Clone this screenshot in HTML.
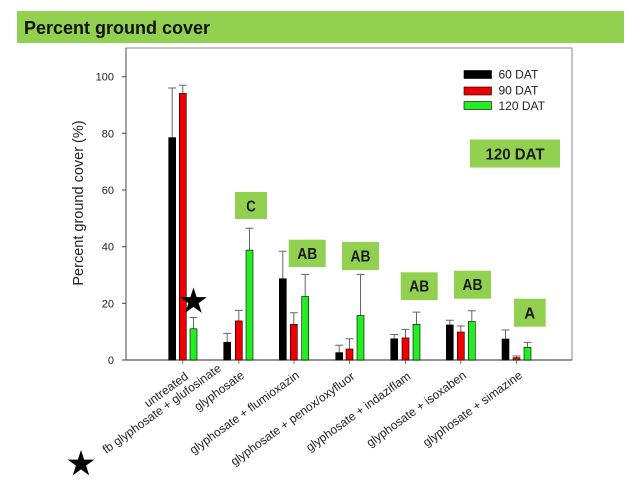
<!DOCTYPE html>
<html><head><meta charset="utf-8"><style>
html,body{margin:0;padding:0;background:#fff;}
svg{display:block;}
text{font-family:"Liberation Sans",Arial,sans-serif;}
</style></head><body>
<svg width="640" height="480" viewBox="0 0 640 480" xmlns="http://www.w3.org/2000/svg">
<rect x="0" y="0" width="640" height="480" fill="#fff"/>
<!-- title bar -->
<rect x="17" y="11" width="607" height="32" fill="#92d050"/>
<text x="24" y="34" font-size="18" font-weight="bold" fill="#111">Percent ground cover</text>

<!-- frame -->
<rect x="126" y="48" width="446" height="312" fill="none" stroke="#8a8a8a" stroke-width="1"/>
<line x1="126" y1="48" x2="126" y2="360" stroke="#444" stroke-width="1"/>
<line x1="126" y1="360" x2="572" y2="360" stroke="#555" stroke-width="1.2"/>

<!-- y ticks -->
<g stroke="#444" stroke-width="1">
<line x1="122" y1="76.7" x2="126" y2="76.7"/>
<line x1="122" y1="133.3" x2="126" y2="133.3"/>
<line x1="122" y1="190" x2="126" y2="190"/>
<line x1="122" y1="246.7" x2="126" y2="246.7"/>
<line x1="122" y1="303.3" x2="126" y2="303.3"/>
<line x1="122" y1="360" x2="126" y2="360"/>
</g>
<g font-size="11" fill="#222" text-anchor="end">
<text x="114" y="80.7">100</text>
<text x="114" y="137.3">80</text>
<text x="114" y="194">60</text>
<text x="114" y="250.7">40</text>
<text x="114" y="307.3">20</text>
<text x="114" y="364">0</text>
</g>
<text transform="translate(83,203) rotate(-90)" font-size="14.5" fill="#222" text-anchor="middle">Percent ground cover (%)</text>

<!-- x ticks -->
<g stroke="#777" stroke-width="1">
<line x1="182.7" y1="360" x2="182.7" y2="364"/>
<line x1="238.8" y1="360" x2="238.8" y2="364"/>
<line x1="294" y1="360" x2="294" y2="364"/>
<line x1="349.5" y1="360" x2="349.5" y2="364"/>
<line x1="405.5" y1="360" x2="405.5" y2="364"/>
<line x1="460.8" y1="360" x2="460.8" y2="364"/>
<line x1="516.5" y1="360" x2="516.5" y2="364"/>
</g>

<!-- error bars -->
<g stroke="#666" stroke-width="1">
<path d="M172.2 137.6V88 M168.2 88H176.2"/>
<path d="M182.8 93.4V85.2 M178.8 85.2H186.8"/>
<path d="M193.5 328.8V317.5 M189.5 317.5H197.5"/>
<path d="M227.2 342.2V333.4 M223.2 333.4H231.2"/>
<path d="M238.8 320.9V310.4 M234.8 310.4H242.8"/>
<path d="M249.5 250.1V228.3 M245.5 228.3H253.5"/>
<path d="M282.8 278.7V251.2 M278.8 251.2H286.8"/>
<path d="M293.8 324.3V312.7 M289.8 312.7H297.8"/>
<path d="M305.2 296.5V274.4 M301.2 274.4H309.2"/>
<path d="M339.2 352.6V345.3 M335.2 345.3H343.2"/>
<path d="M349.5 349V338.8 M345.5 338.8H353.5"/>
<path d="M360.5 315.5V274.4 M356.5 274.4H364.5"/>
<path d="M394.2 338.8V334.5 M390.2 334.5H398.2"/>
<path d="M405.5 337.9V329.4 M401.5 329.4H409.5"/>
<path d="M416.5 324.3V312.1 M412.5 312.1H420.5"/>
<path d="M449.8 324.9V320.3 M445.8 320.3H453.8"/>
<path d="M460.8 332V326 M456.8 326H464.8"/>
<path d="M471.8 321.5V310.7 M467.8 310.7H475.8"/>
<path d="M505.5 339V330 M501.5 330H509.5"/>
<path d="M516.5 357.7V356 M512.5 356H520.5"/>
<path d="M527.5 347.3V342.4 M523.5 342.4H531.5"/>
</g>

<!-- bars -->
<g stroke="#000" stroke-width="0.6">
<rect x="168.7" y="137.6" width="7" height="222.4" fill="#000"/>
<rect x="179.3" y="93.4" width="7" height="266.6" fill="#ee0000"/>
<rect x="190" y="328.8" width="7" height="31.2" fill="#22ee22"/>

<rect x="223.7" y="342.2" width="7" height="17.8" fill="#000"/>
<rect x="235.3" y="320.9" width="7" height="39.1" fill="#ee0000"/>
<rect x="246" y="250.1" width="7" height="109.9" fill="#22ee22"/>

<rect x="279.3" y="278.7" width="7" height="81.3" fill="#000"/>
<rect x="290.3" y="324.3" width="7" height="35.7" fill="#ee0000"/>
<rect x="301.7" y="296.5" width="7" height="63.5" fill="#22ee22"/>

<rect x="335.7" y="352.6" width="7" height="7.4" fill="#000"/>
<rect x="346" y="349" width="7" height="11" fill="#ee0000"/>
<rect x="357" y="315.5" width="7" height="44.5" fill="#22ee22"/>

<rect x="390.7" y="338.8" width="7" height="21.2" fill="#000"/>
<rect x="402" y="337.9" width="7" height="22.1" fill="#ee0000"/>
<rect x="413" y="324.3" width="7" height="35.7" fill="#22ee22"/>

<rect x="446.3" y="324.9" width="7" height="35.1" fill="#000"/>
<rect x="457.3" y="332" width="7" height="28" fill="#ee0000"/>
<rect x="468.3" y="321.5" width="7" height="38.5" fill="#22ee22"/>

<rect x="502" y="339" width="7" height="21" fill="#000"/>
<rect x="513" y="357.7" width="7" height="2.3" fill="#ee0000"/>
<rect x="524" y="347.3" width="7" height="12.7" fill="#22ee22"/>
</g>

<!-- legend -->
<rect x="464" y="70.5" width="27.5" height="8" fill="#000" stroke="#000" stroke-width="0.6"/>
<rect x="464" y="87" width="27.5" height="8" fill="#ee0000" stroke="#000" stroke-width="0.6"/>
<rect x="464" y="101.5" width="27.5" height="8" fill="#22ee22" stroke="#000" stroke-width="0.6"/>
<g font-size="12" fill="#222">
<text x="498.5" y="78.5">60 DAT</text>
<text x="498.5" y="94.5">90 DAT</text>
<text x="498.5" y="110">120 DAT</text>
</g>

<!-- significance boxes -->
<g fill="#92d050">
<rect x="470" y="139.5" width="90" height="28"/>
<rect x="235" y="192" width="32" height="27"/>
<rect x="288.7" y="239.7" width="37" height="27.3"/>
<rect x="342" y="242" width="37" height="28"/>
<rect x="400.7" y="272.3" width="37" height="27.7"/>
<rect x="454" y="270.7" width="37" height="28"/>
<rect x="514" y="298.7" width="31.7" height="28"/>
</g>
<g font-size="16" font-weight="bold" fill="#1a1a1a" text-anchor="middle">
<text x="515" y="159.5" textLength="59" lengthAdjust="spacingAndGlyphs">120 DAT</text>
<text x="251" y="211.5" textLength="9.5" lengthAdjust="spacingAndGlyphs">C</text>
<text x="307.2" y="259" textLength="20" lengthAdjust="spacingAndGlyphs">AB</text>
<text x="360.5" y="261.5" textLength="20" lengthAdjust="spacingAndGlyphs">AB</text>
<text x="419.2" y="291.5" textLength="20" lengthAdjust="spacingAndGlyphs">AB</text>
<text x="472.5" y="290" textLength="20" lengthAdjust="spacingAndGlyphs">AB</text>
<text x="529.8" y="318.5" textLength="11" lengthAdjust="spacingAndGlyphs">A</text>
</g>

<!-- x labels -->
<g font-size="12" fill="#222" text-anchor="end">
<text transform="translate(189,378) rotate(-36)">untreated</text>
<text transform="translate(222,370) rotate(-36)">fb glyphosate + glufosinate</text>
<text transform="translate(245,377) rotate(-36)">glyphosate</text>
<text transform="translate(300,377) rotate(-36)">glyphosate + flumioxazin</text>
<text transform="translate(355.5,378) rotate(-36)">glyphosate + penox/oxyfluor</text>
<text transform="translate(411.5,378) rotate(-36)">glyphosate + indaziflam</text>
<text transform="translate(467,377) rotate(-36)">glyphosate + isoxaben</text>
<text transform="translate(523,377) rotate(-36)">glyphosate + simazine</text>
</g>

<!-- stars -->
<path transform="translate(193.5,301.5)" fill="#000" d="M0 -14 L3.15 -4.33 L13.31 -4.33 L5.09 1.65 L8.23 11.33 L0 5.35 L-8.23 11.33 L-5.09 1.65 L-13.31 -4.33 L-3.15 -4.33 Z"/>
<path transform="translate(81,464)" fill="#000" d="M0 -14 L3.15 -4.33 L13.31 -4.33 L5.09 1.65 L8.23 11.33 L0 5.35 L-8.23 11.33 L-5.09 1.65 L-13.31 -4.33 L-3.15 -4.33 Z"/>
</svg>
</body></html>
